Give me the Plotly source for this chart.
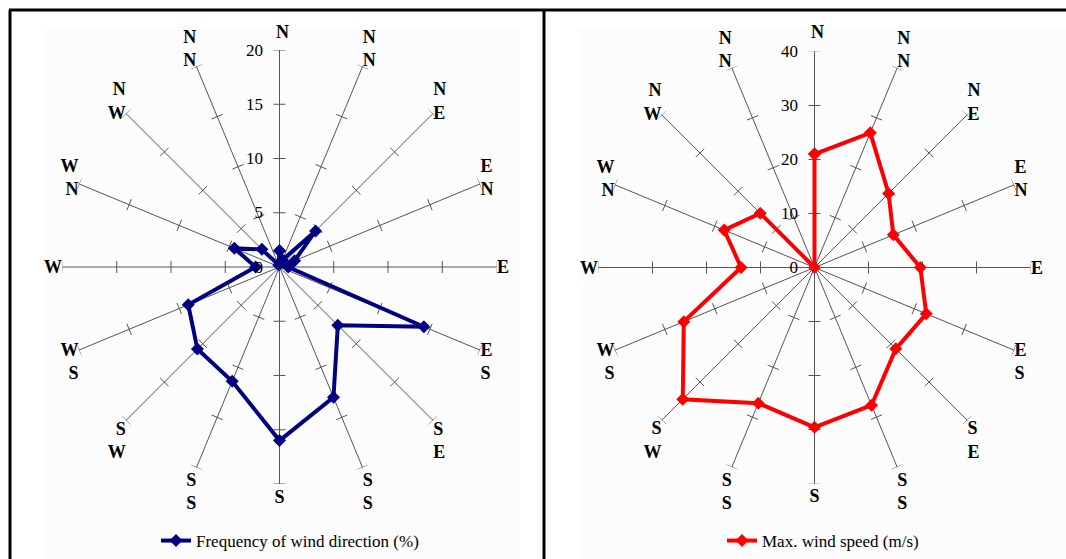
import math
import plotly.graph_objects as go

# ---- data ----
directions = ["N", "NNE", "NE", "ENE", "E", "ESE", "SE", "SSE",
              "S", "SSW", "SW", "WSW", "W", "WNW", "NW", "NNW"]
dir_labels = ["N", "N<br>N", "N<br>E", "E<br>N", "E", "E<br>S", "S<br>E", "S<br>S",
              "S", "S<br>S", "S<br>W", "W<br>S", "W", "W<br>N", "N<br>W", "N<br>N"]
freq_pct = [1.5, 0.7, 4.7, 1.5, 0.8, 14.4, 7.6, 13.0,
            16.0, 11.4, 10.7, 9.1, 2.2, 4.5, 2.3, 0.2]
max_speed = [21.0, 27.0, 19.4, 15.8, 19.6, 22.4, 21.3, 27.6,
             29.6, 27.2, 34.5, 26.2, 13.6, 18.1, 14.2, 0.0]
freq_ticks = [0, 5, 10, 15, 20]
speed_ticks = [0, 10, 20, 30, 40]

angles = [i * 360 / len(directions) for i in range(len(directions))]

SERIF = "Liberation Serif"
SPOKE = "#555555"

fig = go.Figure()


def tick_marks(tickvals, rmax, subplot, half_px=6, radius_px=217):
    """short cross-ticks on every spoke, positioned via polar coords"""
    h = half_px * rmax / radius_px
    rr, tt = [], []
    for a in angles:
        for r in tickvals[1:]:
            rp = math.sqrt(r * r + h * h)
            da = math.degrees(math.atan(h / r))
            rr += [rp, rp, None]
            tt += [a - da, a + da, None]
    fig.add_trace(go.Scatterpolar(r=rr, theta=tt, mode="lines",
                                  line=dict(color=SPOKE, width=1),
                                  showlegend=False, hoverinfo="skip",
                                  subplot=subplot, connectgaps=False))


tick_marks(freq_ticks, freq_ticks[-1], "polar")
tick_marks(speed_ticks, speed_ticks[-1], "polar2")

fig.add_trace(go.Scatterpolar(
    r=freq_pct + freq_pct[:1], theta=angles + angles[:1],
    mode="lines+markers", name="Frequency of wind direction (%)",
    line=dict(color="#000080", width=4),
    marker=dict(symbol="diamond", size=10, color="#000080"),
    subplot="polar", legend="legend"))

fig.add_trace(go.Scatterpolar(
    r=max_speed + max_speed[:1], theta=angles + angles[:1],
    mode="lines+markers", name="Max. wind speed (m/s)",
    line=dict(color="#ff0000", width=4),
    marker=dict(symbol="diamond", size=10, color="#ff0000"),
    subplot="polar2", legend="legend2"))

W, H = 1066, 559


def px_domain(cx, cy, rad):
    return dict(x=[(cx - rad) / W, (cx + rad) / W],
                y=[1 - (cy + rad) / H, 1 - (cy - rad) / H])


def polar_layout(domain, ticks):
    return dict(
        domain=domain,
        bgcolor="rgba(0,0,0,0)",
        angularaxis=dict(
            rotation=90, direction="clockwise", thetaunit="degrees",
            tickmode="array", tickvals=angles,
            # the north label is placed separately (further out, above the scale)
            ticktext=["" if t == "N" else "<b>%s</b>" % t for t in dir_labels],
            tickfont=dict(family=SERIF, size=18, color="black"),
            showline=False, ticks="", showgrid=True,
            gridcolor=SPOKE, gridwidth=1),
        radialaxis=dict(
            range=[0, ticks[-1]], tickmode="array", tickvals=ticks,
            angle=90, side="counterclockwise", tickangle=90,
            showgrid=False, showline=False,
            ticks="outside", ticklen=10, tickcolor="rgba(0,0,0,0)",
            tickfont=dict(family=SERIF, size=17, color="black")),
    )


north_annots = [
    dict(x=282 / W, y=1 - 32 / H, xref="paper", yref="paper",
         xanchor="center", yanchor="middle",
         text="<b>%s</b>" % dir_labels[0], showarrow=False,
         font=dict(family=SERIF, size=18, color="black")),
    dict(x=817 / W, y=1 - 32 / H, xref="paper", yref="paper",
         xanchor="center", yanchor="middle",
         text="<b>%s</b>" % dir_labels[0], showarrow=False,
         font=dict(family=SERIF, size=18, color="black")),
]

leg_common = dict(y=0, yanchor="bottom", xanchor="center",
                  font=dict(family=SERIF, size=17, color="black"),
                  bgcolor="rgba(0,0,0,0)")

fig.update_layout(
    width=W, height=H,
    margin=dict(l=0, r=0, t=0, b=0),
    paper_bgcolor="white",
    polar=polar_layout(px_domain(279.5, 267, 217), freq_ticks),
    polar2=polar_layout(px_domain(814.5, 267.5, 216), speed_ticks),
    legend=dict(x=290 / W, **leg_common),
    legend2=dict(x=823 / W, **leg_common),
    annotations=north_annots,
    shapes=[
        dict(type="rect", xref="paper", yref="paper", layer="below",
             x0=44 / W, x1=520 / W, y0=0, y1=1 - 27 / H,
             fillcolor="#fcfcfc", line=dict(width=0)),
        dict(type="rect", xref="paper", yref="paper", layer="below",
             x0=578 / W, x1=1, y0=0, y1=1 - 27 / H,
             fillcolor="#fcfcfc", line=dict(width=0)),
        dict(type="line", xref="paper", yref="paper",
             x0=9 / W, x1=1, y0=1 - 10 / H, y1=1 - 10 / H,
             line=dict(color="black", width=3)),
        dict(type="line", xref="paper", yref="paper",
             x0=10 / W, x1=10 / W, y0=0, y1=1 - 10 / H,
             line=dict(color="black", width=3)),
        dict(type="line", xref="paper", yref="paper",
             x0=544 / W, x1=544 / W, y0=0, y1=1 - 10 / H,
             line=dict(color="black", width=3)),
    ],
)

fig.write_html("out.html",
               config={"displayModeBar": False},
               post_script="document.body.style.margin='0';"
                           "document.body.style.overflow='hidden';")
